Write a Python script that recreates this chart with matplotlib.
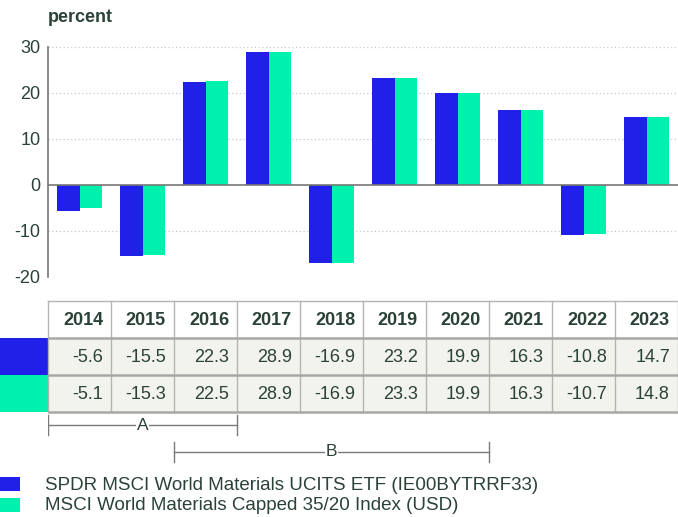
import numpy as np
import matplotlib.pyplot as plt
from matplotlib.patches import Rectangle

plt.rcParams['font.family'] = ['Liberation Sans', 'DejaVu Sans']
plt.rcParams['axes.unicode_minus'] = False

years = [2014, 2015, 2016, 2017, 2018, 2019, 2020, 2021, 2022, 2023]
etf = [-5.6, -15.5, 22.3, 28.9, -16.9, 23.2, 19.9, 16.3, -10.8, 14.7]
index = [-5.1, -15.3, 22.5, 28.9, -16.9, 23.3, 19.9, 16.3, -10.7, 14.8]
series_names = ["SPDR MSCI World Materials UCITS ETF (IE00BYTRRF33)",
                "MSCI World Materials Capped 35/20 Index (USD)"]
periods = [("A", 2014, 2016), ("B", 2016, 2020)]

BLUE = "#2020e8"
GREEN = "#00f0ae"
TXT = "#2b4237"
W, H = 678, 517

fig = plt.figure(figsize=(W / 100, H / 100), dpi=100)

def px_box(x0, y0, x1, y1):
    # figure-pixel box (top-left origin) -> axes rect
    return [x0 / W, 1 - y1 / H, (x1 - x0) / W, (y1 - y0) / H]

# --- bar chart ---
ax = fig.add_axes(px_box(48, 47, 678, 277))
x = np.arange(len(years))
bw = 0.365
ax.bar(x - bw / 2, etf, bw, color=BLUE, zorder=3)
ax.bar(x + bw / 2, index, bw, color=GREEN, zorder=3)
ax.set_xlim(-0.5, len(years) - 0.5)
ax.set_ylim(-20, 30)
ax.set_yticks([-20, -10, 0, 10, 20, 30])
ax.set_xticks([])
for t in [-20, -10, 10, 20, 30]:
    ax.axhline(t, color="#c8c8c8", lw=0.9, ls=(0, (1, 2)), zorder=1)
ax.axhline(0, color="#777777", lw=1.2, zorder=4)
for s in ["top", "right", "bottom"]:
    ax.spines[s].set_visible(False)
ax.spines["left"].set_color("#777777")
ax.spines["left"].set_linewidth(1.2)
ax.tick_params(axis="y", length=0, pad=5.5, labelsize=13, labelcolor=TXT)

# --- overlay in figure pixels for title and legend ---
lax = fig.add_axes([0, 0, 1, 1])
lax.set_xlim(0, W)
lax.set_ylim(H, 0)
lax.axis("off")
lax.text(48, 22, "percent", ha="left", va="baseline", fontsize=13,
         fontweight="bold", color=TXT)

# --- table (x in data units shared with bars, y in figure pixels) ---
tax = fig.add_axes(px_box(48, 290, 678, 517))
tax.set_xlim(-0.5, len(years) - 0.5)
tax.set_ylim(517, 290)
tax.axis("off")
colw_px = 63.0
rows = [301, 338, 375, 412]
pad = 8 / colw_px

tax.add_patch(Rectangle((-0.5, rows[1]), len(years), rows[3] - rows[1],
                        facecolor="#f3f3ee", edgecolor="none", zorder=1))
# row swatches left of the table
sw = 48 / colw_px
tax.add_patch(Rectangle((-0.5 - sw, rows[1]), sw, rows[2] - rows[1],
                        facecolor=BLUE, edgecolor="none", clip_on=False, zorder=2))
tax.add_patch(Rectangle((-0.5 - sw, rows[2]), sw, rows[3] - rows[2],
                        facecolor=GREEN, edgecolor="none", clip_on=False, zorder=2))

for i in range(len(years) + 1):
    tax.plot([i - 0.5, i - 0.5], [rows[0], rows[3]], color="#b4b4b4", lw=1,
             zorder=3, clip_on=False)
tax.plot([-0.5, len(years) - 0.5], [rows[0], rows[0]], color="#b4b4b4", lw=1,
         zorder=3, clip_on=False)
for yy in rows[1:]:
    tax.plot([-0.5, len(years) - 0.5], [yy, yy], color="#a8a8a8", lw=1.8,
             zorder=3, clip_on=False, solid_capstyle="butt")

for i, yr in enumerate(years):
    tax.text(i + 0.5 - pad, (rows[0] + rows[1]) / 2 + 1, str(yr), ha="right",
             va="center", fontsize=13, fontweight="bold", color=TXT, zorder=4)
    tax.text(i + 0.5 - pad, (rows[1] + rows[2]) / 2 + 1, f"{etf[i]:.1f}",
             ha="right", va="center", fontsize=13, color=TXT, zorder=4)
    tax.text(i + 0.5 - pad, (rows[2] + rows[3]) / 2 + 1, f"{index[i]:.1f}",
             ha="right", va="center", fontsize=13, color=TXT, zorder=4)

# period brackets
bracket_y = [425, 452]
for (lab, y0, y1), by in zip(periods, bracket_y):
    xa = years.index(y0) - 0.5
    xb = years.index(y1) + 0.5
    tax.plot([xa, xb], [by, by], color="#7a7a7a", lw=1, zorder=3)
    tax.plot([xa, xa], [by - 10, by + 10], color="#7a7a7a", lw=1, zorder=3)
    tax.plot([xb, xb], [by - 10, by + 10], color="#7a7a7a", lw=1, zorder=3)
    tax.text((xa + xb) / 2, by, lab, ha="center", va="center", fontsize=12.5,
             color=TXT, zorder=4,
             bbox=dict(facecolor="white", edgecolor="none", pad=0.5))

# legend
for k, (name, col) in enumerate(zip(series_names, [BLUE, GREEN])):
    yc = 484 + k * 21
    lax.add_patch(Rectangle((0, yc - 7), 20, 14, facecolor=col, edgecolor="none"))
    lax.text(45, yc + 1, name, ha="left", va="center", fontsize=13.5, color=TXT)

fig.savefig("out.png", dpi=100)
